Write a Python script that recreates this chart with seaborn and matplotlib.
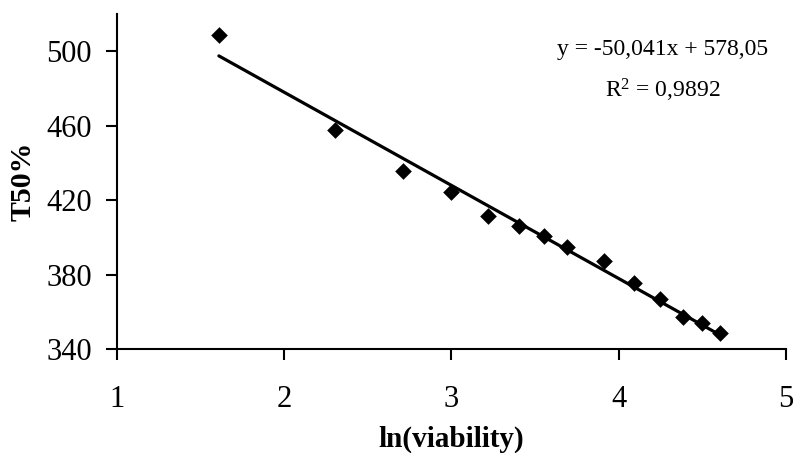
import numpy as np
import pandas as pd
import matplotlib
matplotlib.use("Agg")
import matplotlib.pyplot as plt
import seaborn as sns

# Viability levels (%) and their natural logs
viability = [5, 10, 15, 20, 25, 30, 35, 40, 50, 60, 70, 80, 90, 100]
ln_viability = np.log(viability)
t50 = [508.5, 457.8, 435.4, 424.6, 411.7, 406.2, 400.8, 394.7,
       387.3, 375.6, 366.7, 357.3, 354.1, 348.7]

# Linear trend line coefficients
slope = -50.041
intercept = 578.05
r_squared = 0.9892

x_ticks = [1, 2, 3, 4, 5]
y_ticks = [340, 380, 420, 460, 500]

sns.set_theme(style="white")
plt.rcParams["font.family"] = ["Liberation Serif", "DejaVu Serif"]
plt.rcParams["mathtext.fontset"] = "custom"
plt.rcParams["mathtext.rm"] = "Liberation Serif"
plt.rcParams["mathtext.it"] = "Liberation Serif:italic"
plt.rcParams["text.color"] = "black"
plt.rcParams["axes.labelcolor"] = "black"

df = pd.DataFrame({"ln_viability": ln_viability, "t50": t50})
x_fit = np.array([ln_viability[0], ln_viability[-1]])
fit = pd.DataFrame({"x": x_fit, "y": slope * x_fit + intercept})

fig = plt.figure(figsize=(7.93, 4.53), dpi=100)
ax = fig.add_axes([0.1475, 0.2296, 0.991 - 0.1475, 0.969 - 0.2296])

sns.lineplot(data=fit, x="x", y="y", ax=ax, color="black", linewidth=2.3)
sns.scatterplot(data=df, x="ln_viability", y="t50", ax=ax, marker="D",
                color="black", s=72, edgecolor="black", linewidth=0, zorder=3)

ax.set_xlim(1, 5)
ax.set_ylim(340, 520)
ax.set_xticks(x_ticks)
ax.set_yticks(y_ticks)
ax.tick_params(axis="both", direction="out", length=8, width=1.5,
               color="black", labelsize=22, labelcolor="black",
               bottom=True, left=True)
ax.tick_params(axis="x", pad=18)
ax.tick_params(axis="y", pad=10)

for side in ["top", "right"]:
    ax.spines[side].set_visible(False)
for side in ["left", "bottom"]:
    ax.spines[side].set_color("black")
    ax.spines[side].set_linewidth(1.5)

ax.set_xlabel("ln(viability)", fontsize=21, fontweight="bold", labelpad=8)
ax.set_ylabel("T50%", fontsize=21.5, fontweight="bold", labelpad=7)

ax.text(0.816, 0.893, "y = -50,041x + 578,05", transform=ax.transAxes,
        ha="center", va="center", fontsize=17, color="black")
ax.text(0.816, 0.771, "R$^2$ = 0,9892", transform=ax.transAxes,
        ha="center", va="center", fontsize=17, color="black")

fig.savefig("out.png", dpi=100, facecolor="white")
